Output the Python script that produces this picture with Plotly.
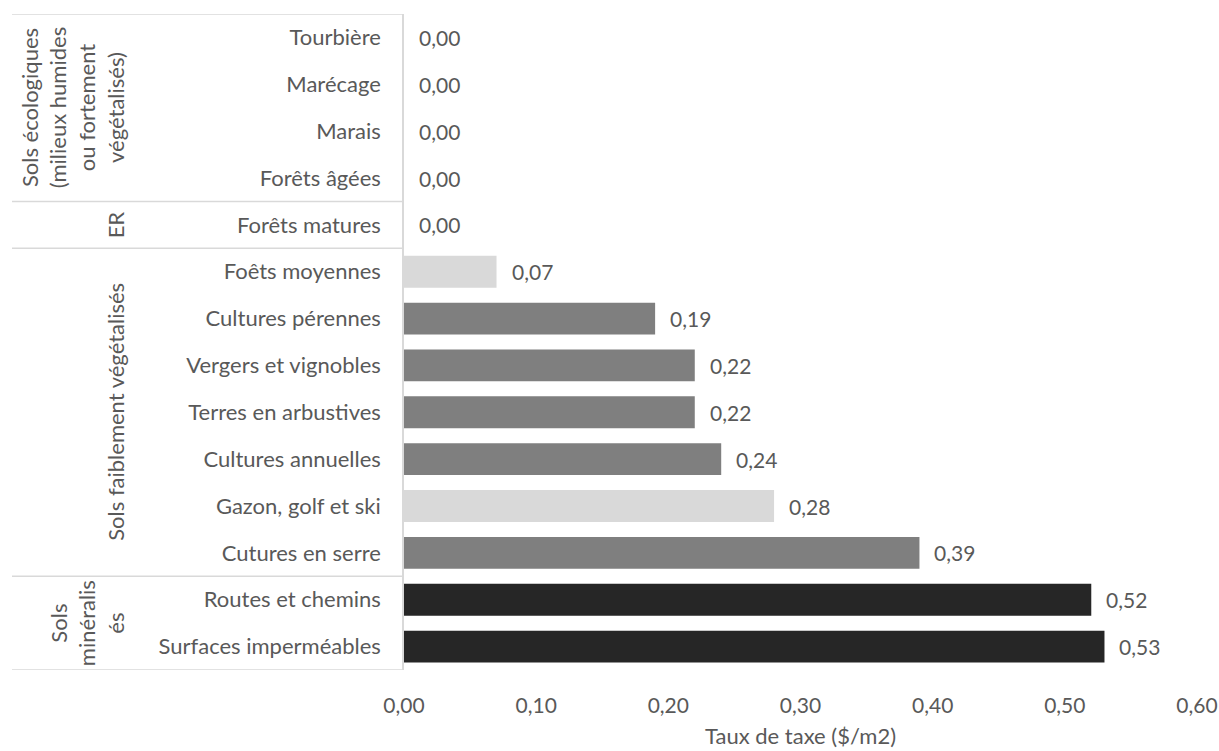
import plotly.graph_objects as go

categories = ["Tourbière", "Marécage", "Marais", "Forêts âgées", "Forêts matures",
              "Foêts moyennes", "Cultures pérennes", "Vergers et vignobles",
              "Terres en arbustives", "Cultures annuelles", "Gazon, golf et ski",
              "Cutures en serre", "Routes et chemins", "Surfaces imperméables"]
values = [0.0, 0.0, 0.0, 0.0, 0.0, 0.07, 0.19, 0.22, 0.22, 0.24, 0.28, 0.39, 0.52, 0.53]
bar_colors = ["#7F7F7F"] * 5 + ["#D9D9D9", "#7F7F7F", "#7F7F7F", "#7F7F7F", "#7F7F7F",
                                "#D9D9D9", "#7F7F7F", "#262626", "#262626"]
x_ticks = [0.0, 0.1, 0.2, 0.3, 0.4, 0.5, 0.6]
x_title = "Taux de taxe ($/m2)"

# groups: (label, first index, last index)
groups = [
    ("Sols écologiques<br>(milieux humides<br>ou fortement<br>végétalisés)", 0, 3),
    ("ER", 4, 4),
    ("Sols faiblement végétalisés", 5, 11),
    ("Sols<br>minéralis<br>és", 12, 13),
]

FONT = "Lato"
TXT = "#595959"
GRID = "#D9D9D9"
TS = 22   # text size
NS = 21   # number size
W, H = 1219, 751
ML, MR, MT, MB = 404, 22, 14, 81
PW = W - ML - MR

fig = go.Figure()
fig.add_trace(go.Bar(
    y=categories, x=values, orientation="h",
    marker=dict(color=bar_colors, line=dict(width=0)),
    hoverinfo="skip",
))

def fmt(v):
    return f"{v:.2f}".replace(".", ",")

annotations = []
for c, v in zip(categories, values):
    annotations.append(dict(x=v, y=c, xref="x", yref="y", text=fmt(v), showarrow=False,
                            xanchor="left", yanchor="middle", xshift=13,
                            font=dict(family=FONT, size=NS, color=TXT)))

shapes = []
x_left = (12 - ML) / PW
bounds = sorted(set([g[1] - 0.5 for g in groups] + [g[2] + 0.5 for g in groups]))
for b in bounds:
    shapes.append(dict(type="line", xref="paper", yref="y", x0=x_left, x1=0, y0=b, y1=b,
                       line=dict(color=GRID, width=1.5)))

for label, a, b in groups:
    annotations.append(dict(x=0, y=(a + b) / 2, xref="paper", yref="y", text=label,
                            showarrow=False, textangle=-90, xanchor="right", yanchor="middle",
                            xshift=-(ML - 131), align="center",
                            font=dict(family=FONT, size=TS, color=TXT)))

fig.update_layout(
    width=W, height=H,
    margin=dict(l=ML, r=MR, t=MT, b=MB),
    paper_bgcolor="white", plot_bgcolor="white",
    bargap=0.32,
    showlegend=False,
    separators=", ",
    font=dict(family=FONT, size=TS, color=TXT),
    annotations=annotations,
    shapes=shapes,
    xaxis=dict(range=[0, 0.6], tickvals=x_ticks, tickformat=".2f", showgrid=False,
               zeroline=False, showline=False, ticks="", ticklabelstandoff=21,
               automargin=False,
               tickfont=dict(family=FONT, size=NS, color=TXT),
               title=dict(text=x_title, font=dict(family=FONT, size=TS, color=TXT), standoff=12)),
    yaxis=dict(categoryorder="array", categoryarray=categories, range=[13.5, -0.5],
               showgrid=False, zeroline=False, showline=True, linecolor=GRID, linewidth=1.5,
               ticks="", ticklabelstandoff=17, automargin=False,
               tickfont=dict(family=FONT, size=TS, color=TXT)),
)

fig.write_html("out.html", config={"displayModeBar": False},
               post_script="document.body.style.margin='0';document.body.style.overflow='hidden';")
